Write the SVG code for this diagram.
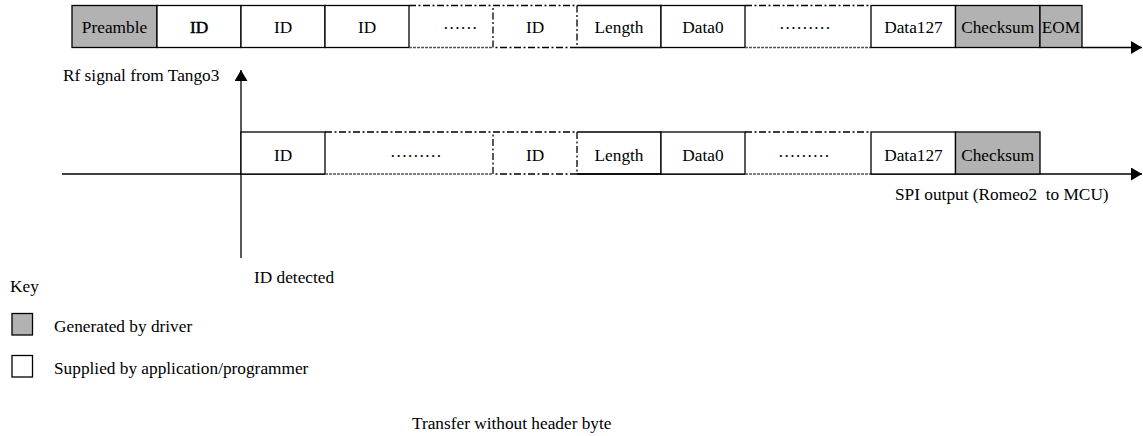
<svg xmlns="http://www.w3.org/2000/svg" width="1143" height="436" viewBox="0 0 1143 436">
<style>
text{font-family:"Liberation Serif","Times New Roman",serif;font-size:17.3px;fill:#000}
.c{text-anchor:middle}
.box{fill:#fff;stroke:#000;stroke-width:1.3}
.gray{fill:#b2b2b2;stroke:#000;stroke-width:1.3}
.ln{fill:none;stroke:#000;stroke-width:1.3}
.dd{fill:none;stroke:#000;stroke-width:1.3;stroke-dasharray:7 2.5 2 2.5}
.fd{fill:none;stroke:#555;stroke-width:1.3;stroke-dasharray:3 1}
</style>
<defs>
<marker id="ah" markerUnits="userSpaceOnUse" markerWidth="12" markerHeight="13" refX="11" refY="6.5" orient="auto">
<path d="M0,0 L11,6.5 L0,13 z" fill="#000"/>
</marker>
</defs>
<rect width="1143" height="436" fill="#fff"/>

<g id="connectors">
<line class="ln" x1="1082" y1="47.5" x2="1142" y2="47.5" marker-end="url(#ah)"/>
<line class="ln" x1="241" y1="258" x2="241" y2="70" marker-end="url(#ah)"/>
<line class="ln" x1="62" y1="174" x2="325" y2="174"/>
<line class="ln" x1="577" y1="174" x2="745" y2="174"/>
<line class="ln" x1="871" y1="174" x2="1142" y2="174" marker-end="url(#ah)"/>
</g>

<g id="top-preamble"><rect class="gray" x="72" y="5.5" width="85" height="42"/><text class="c" x="114.5" y="32.7">Preamble</text></g>
<g id="top-id1"><rect class="box" x="157" y="5.5" width="84" height="42"/><text class="c" x="199" y="32.7" stroke="#000" stroke-width="0.5">ID</text></g>
<g id="top-id2"><rect class="box" x="241" y="5.5" width="84" height="42"/><text class="c" x="283" y="32.7">ID</text></g>
<g id="top-id3"><rect class="box" x="325" y="5.5" width="84" height="42"/><text class="c" x="367" y="32.7">ID</text></g>
<g id="top-dots1"><line class="dd" x1="409" y1="5.5" x2="493" y2="5.5"/><line class="fd" x1="409" y1="47.5" x2="493" y2="47.5"/><text x="443" y="29">……</text></g>
<g id="top-idn"><rect class="dd" x="493" y="5.5" width="84" height="42"/><text class="c" x="535" y="32.7">ID</text></g>
<g id="top-length"><path class="ln" d="M577,5.5 H661 V47.5 H577"/><text class="c" x="619" y="32.7">Length</text></g>
<g id="top-data0"><rect class="box" x="661" y="5.5" width="84" height="42"/><text class="c" x="703" y="32.7">Data0</text></g>
<g id="top-dots2"><line class="dd" x1="745" y1="5.5" x2="871" y2="5.5"/><line class="fd" x1="745" y1="47.5" x2="871" y2="47.5"/><text x="779" y="29">………</text></g>
<g id="top-data127"><rect class="box" x="871" y="5.5" width="84.5" height="42"/><text class="c" x="913.5" y="32.7">Data127</text></g>
<g id="top-checksum"><rect class="gray" x="955.5" y="5.5" width="84.5" height="42"/><text class="c" x="997.7" y="32.7">Checksum</text></g>
<g id="top-eom"><rect class="gray" x="1040" y="5.5" width="42" height="42"/><text class="c" x="1061" y="32.7">EOM</text></g>

<g id="bot-id1"><rect class="box" x="241" y="132" width="84" height="42"/><text class="c" x="283" y="160.7">ID</text></g>
<g id="bot-dots1"><line class="dd" x1="325" y1="132" x2="493" y2="132"/><line class="fd" x1="325" y1="174" x2="493" y2="174"/><text x="390" y="156.5">………</text></g>
<g id="bot-idn"><rect class="dd" x="493" y="132" width="84" height="42"/><text class="c" x="535" y="160.7">ID</text></g>
<g id="bot-length"><path class="ln" d="M577,132 H661 V174 H577"/><text class="c" x="619" y="160.7">Length</text></g>
<g id="bot-data0"><rect class="box" x="661" y="132" width="84" height="42"/><text class="c" x="703" y="160.7">Data0</text></g>
<g id="bot-dots2"><line class="dd" x1="745" y1="132" x2="871" y2="132"/><line class="fd" x1="745" y1="174" x2="871" y2="174"/><text x="778" y="156.5">………</text></g>
<g id="bot-data127"><rect class="box" x="871" y="132" width="84.5" height="42"/><text class="c" x="913.5" y="160.7">Data127</text></g>
<g id="bot-checksum"><rect class="gray" x="955.5" y="132" width="84.5" height="42"/><text class="c" x="997.7" y="160.7">Checksum</text></g>

<g id="labels">
<text x="63" y="81">Rf signal from Tango3</text>
<text x="895" y="200" xml:space="preserve">SPI output (Romeo2  to MCU)</text>
<text x="254" y="282.7">ID detected</text>
<text x="10" y="291.7">Key</text>
<text x="412" y="428.5">Transfer without header byte</text>
</g>
<g id="key-driver"><rect class="gray" x="12" y="313.5" width="20.5" height="21.5"/><text x="54" y="331.7">Generated by driver</text></g>
<g id="key-app"><rect class="box" x="12" y="355.5" width="20.5" height="21.5"/><text x="54" y="373.7">Supplied by application/programmer</text></g>
</svg>
